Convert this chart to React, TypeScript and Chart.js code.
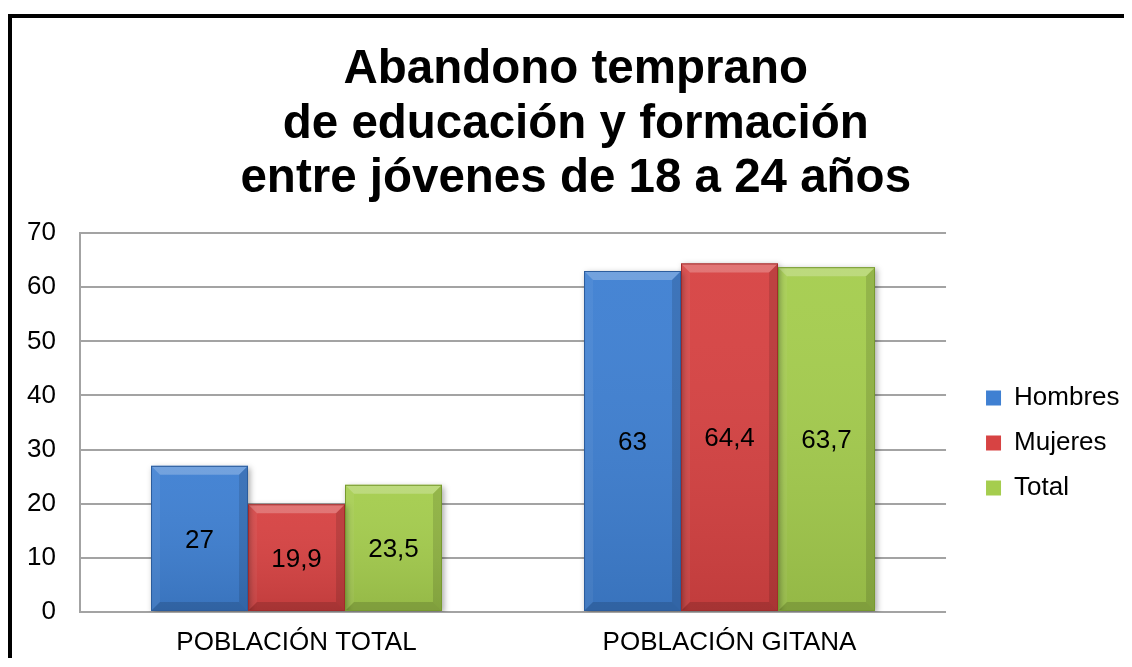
import React, { useEffect, useRef } from 'react';
import { Chart, registerables } from 'chart.js';

Chart.register(...registerables);

const titleLines = ['Abandono temprano', 'de educación y formación', 'entre jóvenes de 18 a 24 años'];
const categories = ['POBLACIÓN TOTAL', 'POBLACIÓN GITANA'];
const seriesNames = ['Hombres', 'Mujeres', 'Total'];
const hombres = [27, 63];
const mujeres = [19.9, 64.4];
const total = [23.5, 63.7];
const yMin = 0;
const yMax = 70;
const yStep = 10;

const fillColors = ['#3f80d2', '#d74343', '#a5cd4e'];
const edgeColors = ['#2c5c9c', '#a02c2c', '#77992f'];

const FONT = "'Liberation Sans', Arial, sans-serif";

const shadowBevelPlugin = {
  id: 'shadowBevel',
  beforeDatasetsDraw(chart: any) {
    const ctx = chart.ctx;
    ctx.save();
    ctx.shadowColor = 'rgba(0,0,0,0.35)';
    ctx.shadowBlur = 6;
    ctx.shadowOffsetX = 2;
    ctx.shadowOffsetY = 2;
  },
  afterDatasetsDraw(chart: any) {
    const ctx = chart.ctx;
    ctx.restore();
    chart.data.datasets.forEach((ds: any, di: number) => {
      const meta = chart.getDatasetMeta(di);
      meta.data.forEach((bar: any, i: number) => {
        const { x, y, base, width } = bar.getProps(['x', 'y', 'base', 'width'], true);
        const l = x - width / 2;
        const r = x + width / 2;
        const t = Math.min(y, base);
        const b = Math.max(y, base);
        const s = Math.min(9, (b - t) / 2);
        const poly = (pts: number[][], color: string) => {
          ctx.beginPath();
          ctx.moveTo(pts[0][0], pts[0][1]);
          for (let k = 1; k < pts.length; k++) ctx.lineTo(pts[k][0], pts[k][1]);
          ctx.closePath();
          ctx.fillStyle = color;
          ctx.fill();
        };
        ctx.save();
        const g = ctx.createLinearGradient(0, t, 0, b);
        g.addColorStop(0, 'rgba(255,255,255,0.04)');
        g.addColorStop(1, 'rgba(0,0,0,0.10)');
        ctx.fillStyle = g;
        ctx.fillRect(l, t, width, b - t);
        poly([[l, t], [r, t], [r - s, t + s], [l + s, t + s]], 'rgba(255,255,255,0.24)');
        poly([[l, t], [l + s, t + s], [l + s, b - s], [l, b]], 'rgba(255,255,255,0.05)');
        poly([[r, t], [r, b], [r - s, b - s], [r - s, t + s]], 'rgba(0,0,0,0.12)');
        poly([[l, b], [r, b], [r - s, b - s], [l + s, b - s]], 'rgba(0,0,0,0.14)');
        ctx.lineWidth = 1;
        ctx.strokeStyle = edgeColors[di];
        ctx.strokeRect(l + 0.5, t + 0.5, width - 1, b - t - 1);
        const v = ds.data[i];
        ctx.fillStyle = '#000';
        ctx.font = `26px ${FONT}`;
        ctx.textAlign = 'center';
        ctx.textBaseline = 'middle';
        ctx.fillText(String(v).replace('.', ','), x, (t + b) / 2 + 2);
        ctx.restore();
      });
    });
  },
};

export default function App() {
  const ref = useRef<HTMLCanvasElement>(null);

  useEffect(() => {
    if (!ref.current) return;
    const series = [hombres, mujeres, total];
    const chart = new Chart(ref.current, {
      type: 'bar',
      data: {
        labels: categories,
        datasets: series.map((d, i) => ({
          label: seriesNames[i],
          data: d,
          backgroundColor: fillColors[i],
          borderColor: edgeColors[i],
          borderWidth: 0,
          categoryPercentage: 0.672,
          barPercentage: 1,
        })),
      },
      options: {
        responsive: false,
        animation: false,
        layout: { padding: { left: 10, right: 2.5, top: 0, bottom: 0 } },
        plugins: {
          title: {
            display: true,
            text: titleLines,
            color: '#000',
            font: { family: FONT, size: 47.5, weight: 'bold', lineHeight: 1.148 },
            padding: { top: 25, bottom: 26.5 },
          },
          legend: {
            display: true,
            position: 'right',
            fullSize: false,
            title: { display: true, text: ' ', font: { size: 10, lineHeight: 1.2 }, padding: 14.5 },
            labels: {
              color: '#000',
              font: { family: FONT, size: 26 },
              boxWidth: 15,
              boxHeight: 15,
              padding: 19,
            },
          },
          tooltip: { enabled: false },
        },
        scales: {
          x: {
            grid: { display: false, drawTicks: false },
            border: { display: false },
            ticks: { color: '#000', font: { family: FONT, size: 26 }, padding: 15 },
            afterFit: (s: any) => {
              s.height = 46;
            },
          },
          y: {
            min: yMin,
            max: yMax,
            grid: { color: '#a3a3a3', lineWidth: 2, drawTicks: false },
            border: { display: true, color: '#a3a3a3', width: 2 },
            ticks: { stepSize: yStep, color: '#000', font: { family: FONT, size: 26 }, padding: 24 },
            afterFit: (s: any) => {
              s.width = 58;
            },
          },
          pad: {
            type: 'linear',
            position: 'right',
            display: true,
            grid: { display: false, drawTicks: false },
            border: { display: false },
            ticks: { display: false },
            afterFit: (s: any) => {
              s.width = 21;
            },
          },
        },
      },
      plugins: [shadowBevelPlugin],
    } as any);
    return () => chart.destroy();
  }, []);

  return (
    <div style={{ paddingTop: 6 }}>
      <div style={{ borderTop: '4px solid #000', borderLeft: '4px solid #000', width: 1120, height: 640 }}>
        <canvas ref={ref} width={1120} height={640} style={{ display: 'block' }} />
      </div>
    </div>
  );
}
